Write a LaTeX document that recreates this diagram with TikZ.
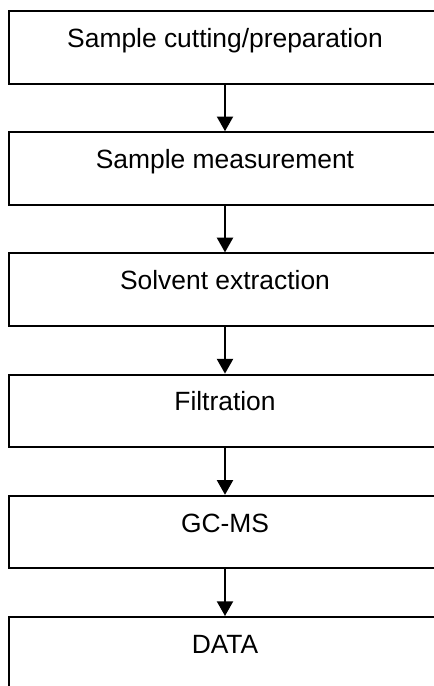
\documentclass[tikz,border=0pt]{standalone}
\usepackage{fontspec}
\setmainfont{Liberation Sans}
\usetikzlibrary{positioning,arrows.meta}

\begin{document}
\begin{tikzpicture}[x=0.75pt,y=0.75pt,
    stage/.style={rectangle, draw, line width=1.5pt, minimum width=324pt,
      inner sep=0pt, text height=27.2pt, text depth=27.2pt,
      font=\fontsize{19.8}{24}\selectfont},
    flow/.style={-{Triangle[length=11pt,width=12pt]}, line width=1.5pt},
    node distance=35pt]
    \useasboundingbox (0,0) rectangle (434,-686);
    \node [stage, anchor=north] (cut) at (225,-10) {Sample cutting/preparation};
    \node [stage, below=of cut] (meas) {Sample measurement};
    \node [stage, below=of meas] (extr) {Solvent extraction};
    \node [stage, below=of extr] (filt) {Filtration};
    \node [stage, below=of filt] (gcms) {GC-MS};
    \node [stage, below=of gcms] (data) {DATA};
    \draw [flow] (cut) -- (meas);
    \draw [flow] (meas) -- (extr);
    \draw [flow] (extr) -- (filt);
    \draw [flow] (filt) -- (gcms);
    \draw [flow] (gcms) -- (data);
\end{tikzpicture}
\end{document}
